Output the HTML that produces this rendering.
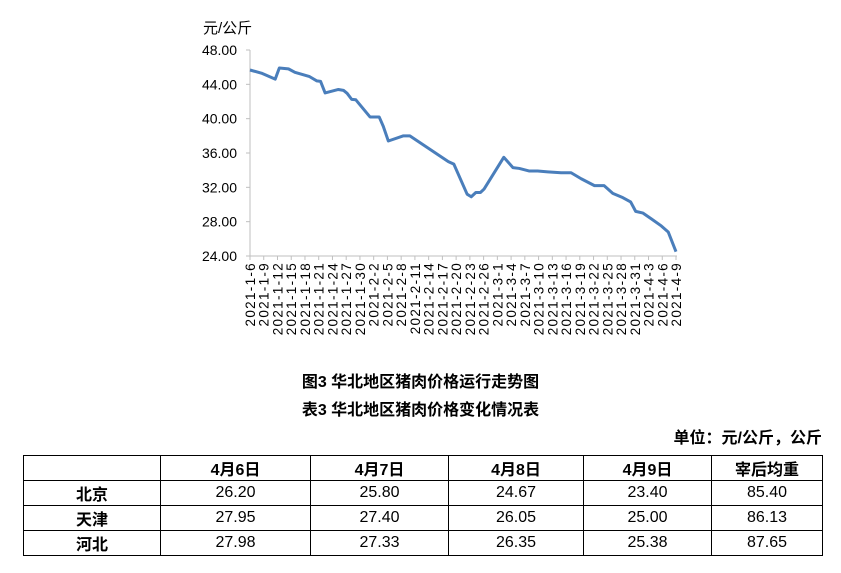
<!DOCTYPE html>
<html><head><meta charset="utf-8">
<style>
body{margin:0;width:841px;height:573px;background:#fff;position:relative;overflow:hidden;font-family:"Liberation Sans","Noto Sans CJK SC",sans-serif;}
.t{position:absolute;font-weight:bold;font-size:16px;color:#000;white-space:nowrap}
table{position:absolute;left:23px;top:455px;border-collapse:collapse;font-size:16px}
td{border:1px solid #000;height:24px;padding:0;text-align:center}
th{border:1px solid #000;height:24px;padding:0;font-weight:bold}
</style></head><body>
<svg id="chart" width="841" height="360" style="position:absolute;left:0;top:0" font-family="Liberation Sans, Noto Sans CJK SC, sans-serif"></svg>
<div class="t" style="left:0;width:841px;text-align:center;top:368px">图3 华北地区猪肉价格运行走势图</div>
<div class="t" style="left:0;width:841px;text-align:center;top:396px">表3 华北地区猪肉价格变化情况表</div>
<div class="t" style="right:19px;top:424px">单位：元/公斤，公斤</div>
<table>
<tr><th style="width:136px"></th><th style="width:149px">4月6日</th><th style="width:137px">4月7日</th><th style="width:134px">4月8日</th><th style="width:127px">4月9日</th><th style="width:110px">宰后均重</th></tr>
<tr><th>北京</th><td>26.20</td><td>25.80</td><td>24.67</td><td>23.40</td><td>85.40</td></tr>
<tr><th>天津</th><td>27.95</td><td>27.40</td><td>26.05</td><td>25.00</td><td>86.13</td></tr>
<tr><th>河北</th><td>27.98</td><td>27.33</td><td>26.35</td><td>25.38</td><td>87.65</td></tr>
</table>
<script>
const days=[0,2.5,5.5,6.4,8.4,9.8,13,14.6,15.4,16.4,19.3,20.4,21.2,22.2,23.1,26.2,28.2,29.1,30.2,33.5,34.9,43.3,44.5,47.4,48.3,49.3,50.3,51.1,55.4,57.4,58.8,61,62.8,65,67.9,70.1,72.3,75.2,77.3,79.2,81.4,83.1,84.2,85.8,87.7,89.8,91.3,93];
const values=[45.67,45.3,44.6,45.9,45.8,45.4,44.9,44.4,44.35,43.0,43.4,43.3,42.95,42.25,42.2,40.2,40.2,39.1,37.4,38.0,38.0,35.0,34.7,31.2,30.9,31.4,31.4,31.8,35.5,34.3,34.2,33.9,33.9,33.8,33.7,33.7,33.0,32.2,32.2,31.3,30.8,30.3,29.2,29.0,28.3,27.5,26.8,24.5];
const yTicks=[24,28,32,36,40,44,48];
const xLabels=[];
for(let d=0;d<=93;d+=3){const dt=new Date(2021,0,6+d);xLabels.push([d,dt.getFullYear()+'-'+(dt.getMonth()+1)+'-'+dt.getDate()]);}
const svg=document.getElementById('chart');const NS='http://www.w3.org/2000/svg';
const X=d=>250+d*(426/93);const Y=v=>256-(v-24)*(206/24);
function el(t,a,txt){const e=document.createElementNS(NS,t);for(const k in a)e.setAttribute(k,a[k]);if(txt!=null)e.textContent=txt;svg.appendChild(e);return e;}
let e=el('line',{x1:250,y1:50,x2:250,y2:256,stroke:'#bfbfbf'});


e=el('line',{x1:250,y1:256,x2:677,y2:256,stroke:'#bfbfbf'});


yTicks.forEach(v=>{
 let t=el('line',{x1:246,x2:250,y1:Y(v),y2:Y(v),stroke:'#bfbfbf'});
 
 
 let l=el('text',{x:237,y:Y(v)+5,'text-anchor':'end','font-size':14,fill:'#000'},v.toFixed(2));
 
 
});
xLabels.forEach(([d,s])=>{
 let t=el('line',{x1:X(d),x2:X(d),y1:256,y2:260,stroke:'#bfbfbf'});
 
 
 let l=el('text',{x:0,y:0,'text-anchor':'end','font-size':13.5,'letter-spacing':'1.3',fill:'#000',transform:`translate(${X(d)+5},262) rotate(-90)`},s);
 
 
});
let u=el('text',{x:203,y:33,'font-size':15,fill:'#000'},'元/公斤');


let p=el('polyline',{points:days.map((d,i)=>X(d)+','+Y(values[i])).join(' '),fill:'none',stroke:'#4a7ebb','stroke-width':3,'stroke-linejoin':'round'});


</script>
</body></html>
